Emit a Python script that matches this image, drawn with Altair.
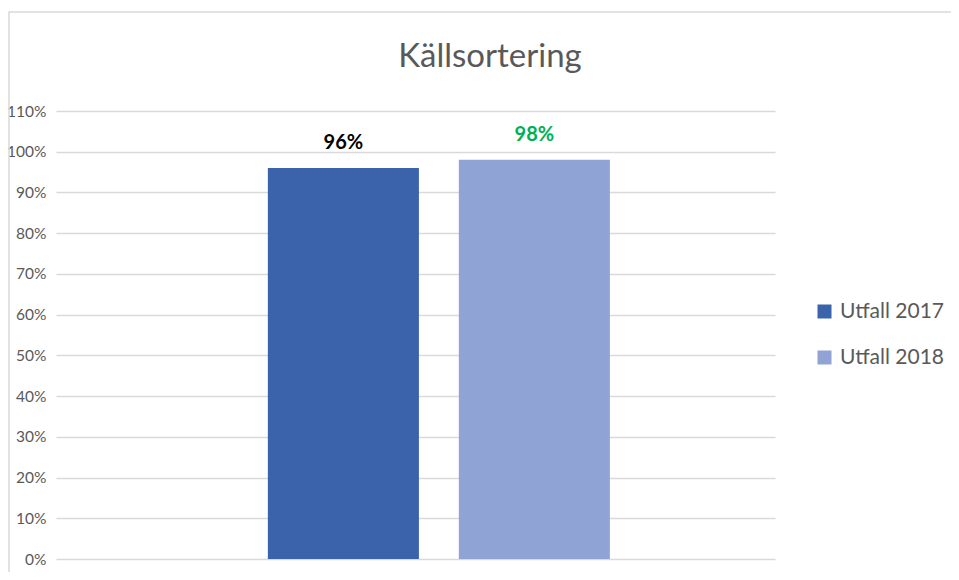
import altair as alt
import pandas as pd

series = ["Utfall 2017", "Utfall 2018"]
values = [0.96, 0.98]
labels = ["96%", "98%"]
label_colors = ["#000000", "#00B050"]
bar_colors = ["#3B63AB", "#8FA3D4"]
chart_title = "Källsortering"

df = pd.DataFrame({"series": series, "value": values, "label": labels, "lc": label_colors})

FONT = "Lato"

x = alt.X("series:N", axis=None,
          scale=alt.Scale(domain=series, paddingInner=0.209, paddingOuter=0.987, align=0.562))
y = alt.Y("value:Q",
          scale=alt.Scale(domain=[0, 1.1], nice=False),
          axis=alt.Axis(values=[i / 10 for i in range(12)], format=".0%", title=None,
                        grid=True, gridColor="#D9D9D9", gridWidth=1.5,
                        domain=False, ticks=False, labelPadding=10,
                        labelFontSize=15.5, labelColor="#595959", labelFont=FONT))

bars = alt.Chart(df).mark_bar().encode(
    x=x, y=y,
    color=alt.Color("series:N", scale=alt.Scale(domain=series, range=bar_colors),
                    legend=alt.Legend(title=None, orient="none", legendX=758, legendY=190,
                                      symbolType="square", symbolSize=196, symbolStrokeWidth=0,
                                      labelFontSize=21, labelColor="#595959", labelFont=FONT,
                                      rowPadding=24, labelOffset=5)),
)

text = alt.Chart(df).mark_text(fontSize=20, fontWeight="bold", font=FONT, dy=-25).encode(
    x=x, y=y, text="label:N", color=alt.Color("lc:N", scale=None)
)

title = alt.Chart(pd.DataFrame({"t": [chart_title]})).mark_text(
    fontSize=33, font=FONT, color="#595959", baseline="middle", align="center", clip=False
).encode(text="t:N", x=alt.value(434), y=alt.value(-54))

border = alt.Chart(pd.DataFrame({"a": [0]})).mark_rect(
    fill=None, stroke="#D9D9D9", strokeWidth=1.5, clip=False
).encode(x=alt.value(-47), x2=alt.value(910), y=alt.value(-99), y2=alt.value(600))

chart = alt.layer(border, bars, text, title).properties(
    width=719, height=448,
    autosize=alt.AutoSizeParams(type="none"),
    padding={"left": 48, "top": 103, "right": 176, "bottom": 13},
).configure(background="white").configure_view(stroke=None)

chart.save("out.html", embed_options={"renderer": "svg", "actions": False})
